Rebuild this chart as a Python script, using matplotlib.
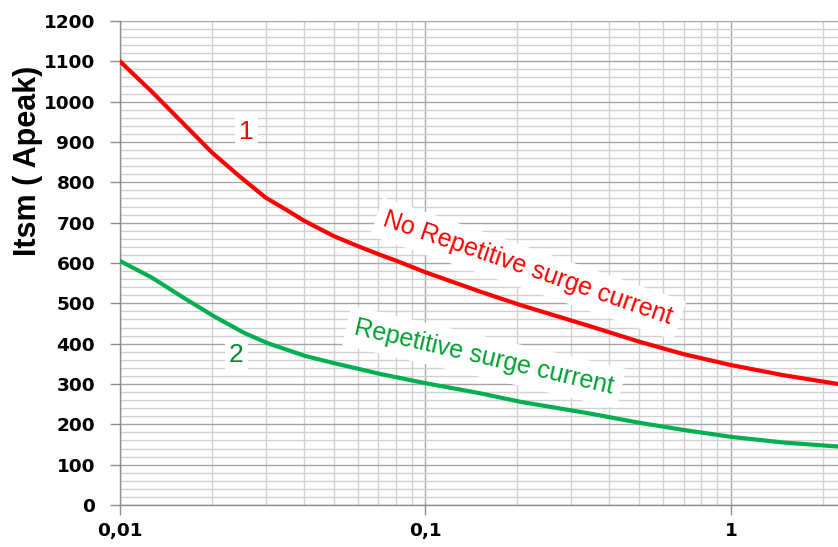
import matplotlib
matplotlib.use("Agg")
import matplotlib.pyplot as plt
from matplotlib.ticker import FixedLocator, LogLocator, NullFormatter, MultipleLocator

# Data
t_non_rep = [0.01, 0.0127, 0.0163, 0.02, 0.0247, 0.03, 0.035, 0.04, 0.05,
             0.06, 0.07, 0.08, 0.1, 0.151, 0.204, 0.35, 0.5, 0.7, 1.0, 1.48, 2.24]
itsm_non_rep = [1100, 1025, 942, 874, 814, 762, 732, 705, 667,
                642, 622, 606, 577, 529, 496, 442, 405, 374, 347, 322, 300]
t_rep = [0.01, 0.0127, 0.0163, 0.0204, 0.0256, 0.0305, 0.0402, 0.05, 0.071, 0.1,
         0.151, 0.204, 0.35, 0.5, 0.7, 1.0, 1.48, 2.24]
itsm_rep = [605, 564, 512, 467, 426, 401, 370, 352, 325, 302,
            277, 256, 226, 204, 186, 169, 155, 145]
x_ticks = [0.01, 0.1, 1]
x_tick_labels = ["0,01", "0,1", "1"]
y_ticks = list(range(0, 1201, 100))

fig = plt.figure(figsize=(8.38, 5.47), dpi=100)
ax = fig.add_axes([120/838, 1-505/547, 1-120/838, (505-21)/547])

ax.set_xscale("log")
ax.set_xlim(0.01, 2.24)
ax.set_ylim(0, 1200)

ax.plot(t_non_rep, itsm_non_rep, color="#ff0000", lw=3, solid_joinstyle="round",
        solid_capstyle="round", zorder=3)
ax.plot(t_rep, itsm_rep, color="#00b050", lw=3, solid_joinstyle="round",
        solid_capstyle="round", zorder=3)

ax.xaxis.set_major_locator(FixedLocator(x_ticks))
ax.set_xticklabels(x_tick_labels)
ax.xaxis.set_minor_locator(LogLocator(base=10, subs=range(2, 10)))
ax.xaxis.set_minor_formatter(NullFormatter())
ax.yaxis.set_major_locator(FixedLocator(y_ticks))
ax.yaxis.set_minor_locator(MultipleLocator(20))

ax.grid(which="major", color="#a6a6a6", lw=1.0, zorder=0)
ax.grid(which="minor", color="#d0d0d0", lw=1.0, zorder=0)
ax.set_axisbelow(True)

for s in ["top", "right"]:
    ax.spines[s].set_visible(False)
for s in ["left", "bottom"]:
    ax.spines[s].set_color("#8c8c8c")
    ax.spines[s].set_linewidth(1.0)

ax.tick_params(axis="both", which="major", direction="out", length=7, width=1,
               color="#8c8c8c", labelsize=13.3)
ax.tick_params(axis="x", which="major", pad=5)
ax.tick_params(axis="y", which="major", pad=11)
ax.tick_params(axis="both", which="minor", length=0)
for lab in ax.get_xticklabels() + ax.get_yticklabels():
    lab.set_fontweight("bold")
    lab.set_family("DejaVu Sans")

fig.text(28/838, 1-161/547, "Itsm ( Apeak)", rotation=90, ha="center", va="center",
         fontsize=22, fontweight="bold", family="Liberation Sans")

box = dict(facecolor="white", edgecolor="none", pad=3)
ax.text(0.0259, 926, "1", color="#ff0000", fontsize=19, family="Liberation Sans",
        ha="center", va="center", bbox=box, zorder=4)
ax.text(0.0240, 372, "2", color="#008a2a", fontsize=19, family="Liberation Sans",
        ha="center", va="center", bbox=box, zorder=4)
ax.text(0.2166, 586, "No Repetitive surge current", color="#ff0000", fontsize=18,
        family="Liberation Sans", rotation=-19, rotation_mode="anchor",
        ha="center", va="center", bbox=dict(facecolor="white", edgecolor="none", pad=6),
        zorder=2.5)
ax.text(0.1555, 367, "Repetitive surge current", color="#00a030", fontsize=18,
        family="Liberation Sans", rotation=-13, rotation_mode="anchor",
        ha="center", va="center", bbox=dict(facecolor="white", edgecolor="none", pad=6),
        zorder=2.5)

fig.savefig("out.png", dpi=100)
